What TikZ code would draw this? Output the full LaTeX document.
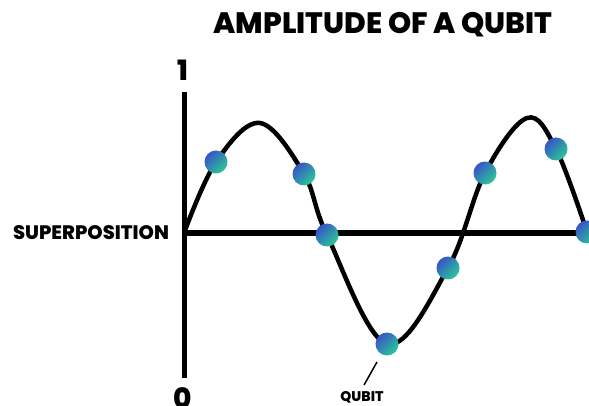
\documentclass[tikz,border=0pt]{standalone}
\usepackage{fontspec}
\setmainfont{Poppins}[BoldFont=* ExtraBold]
\usepackage{tikz}
\usetikzlibrary{positioning}
\definecolor{qblue}{RGB}{56,84,200}
\definecolor{qgreen}{RGB}{42,200,150}
\tikzset{
  qubit/.style={circle,minimum size=23pt,inner sep=0pt,
    top color=qblue,bottom color=qgreen,shading angle=45},
  lbl/.style={font=\bfseries,text=black,inner sep=0pt}
}

\begin{document}
\begin{tikzpicture}[x=1pt,y=-1pt]
  \useasboundingbox (0,0) rectangle (589,406);
  % axes
  \coordinate (top) at (184,92);
  \coordinate (bot) at (184,378);
  \coordinate (orig) at (184,233);
  \coordinate (xend) at (589,233);
  \draw[line width=5pt] (top) -- (bot);
  \draw[line width=6.5pt] (orig) -- (xend);
  % wave
  \draw[line width=4.5pt,smooth,tension=0.6] plot coordinates {
    (184,233) (216,162) (260,123) (304,174) (327,235) (387,344)
    (448,268) (485,173) (527,118) (556,149) (587,232)};
  % qubits
  \foreach \i/\p in {1/{216,162},2/{304,174},3/{327,235},4/{387,344},
                     5/{448,268},6/{485,173},7/{556,149},8/{587,232}}
    \node[qubit] (q\i) at (\p) {};
  % labels
  \node[lbl,font=\bfseries\fontsize{29.5}{30}\selectfont] (title) at (383,25) {AMPLITUDE OF A QUBIT};
  \node[lbl,font=\bfseries\fontsize{28}{28}\selectfont] (one) at (183,70) {1};
  \node[lbl,font=\bfseries\fontsize{28}{28}\selectfont] (zero) at (183,398) {0};
  \node[lbl,font=\bfseries\fontsize{19.5}{20}\selectfont] (sup) at (91,233) {SUPERPOSITION};
  \node[lbl,font=\bfseries\fontsize{14}{14}\selectfont] (qlbl) at (362,397) {QUBIT};
  \coordinate (tick) at (377,362);
  \coordinate (tickend) at (364,385);
  \draw[line width=1.5pt] (tick) -- (tickend);
\end{tikzpicture}
\end{document}
